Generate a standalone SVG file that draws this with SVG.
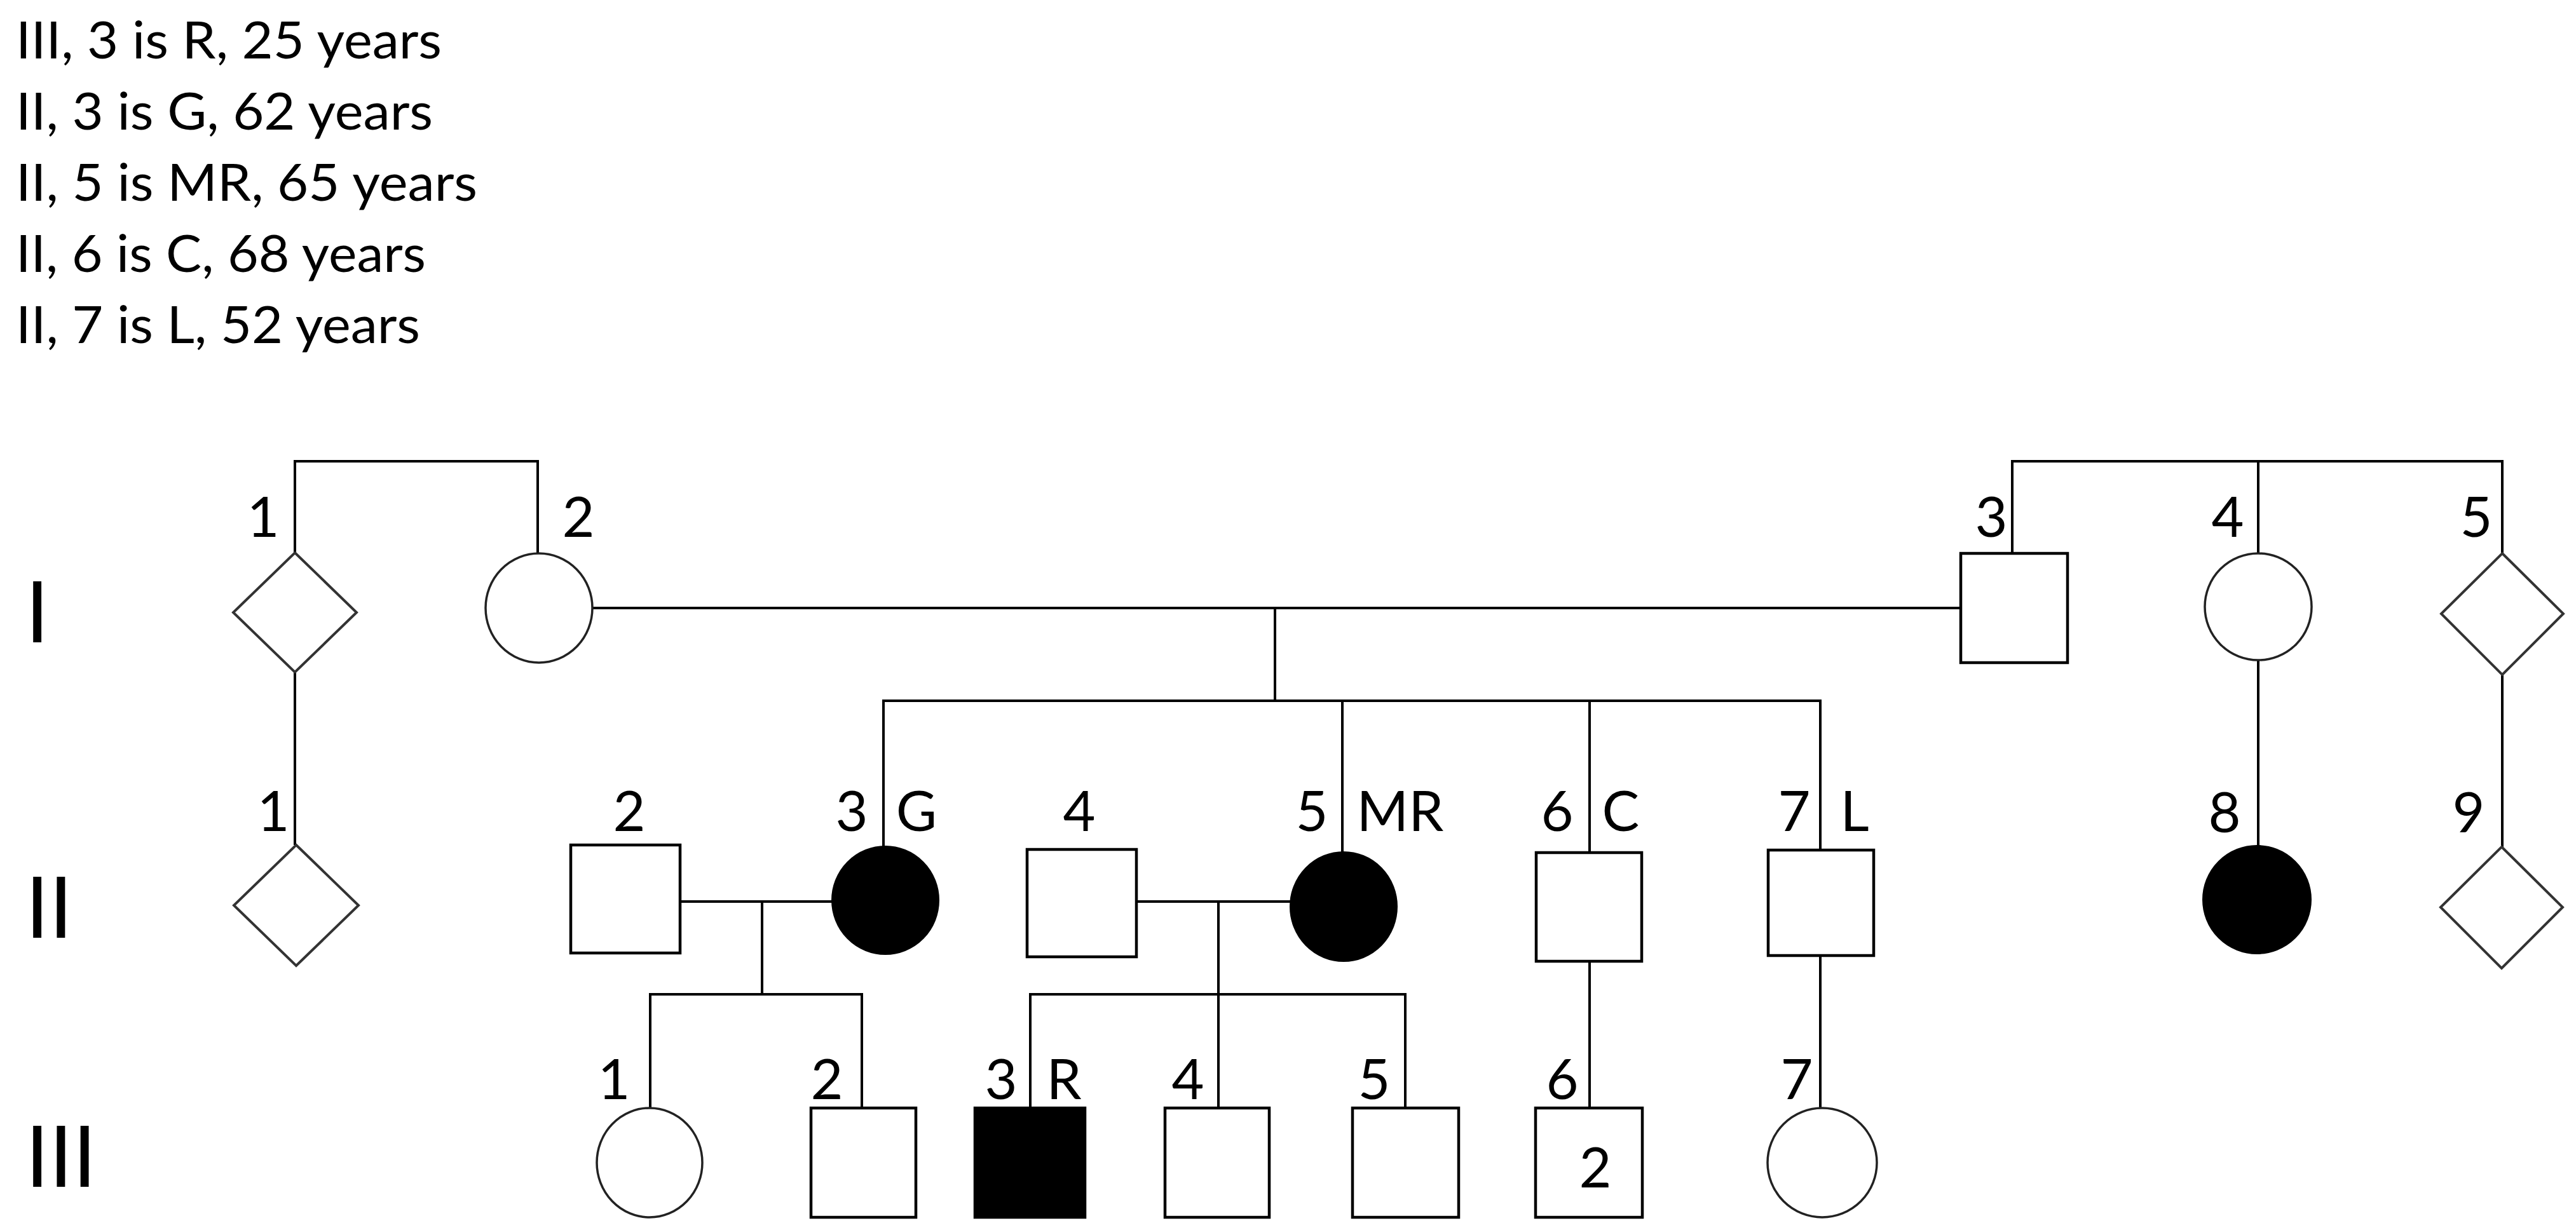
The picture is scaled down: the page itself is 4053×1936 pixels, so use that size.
<svg xmlns="http://www.w3.org/2000/svg" width="4053" height="1936" viewBox="0 0 4053 1936">
<style>
.ln{stroke:#000;stroke-width:4;fill:none}
.sq{fill:#fff;stroke:#000;stroke-width:4.5}
.sqf{fill:#000;stroke:#000;stroke-width:4.5}
.ci{fill:#fff;stroke:#222;stroke-width:3.5}
.cif{fill:#000;stroke:#000;stroke-width:2}
.di{fill:#fff;stroke:#333;stroke-width:4}
.lb{font-family:Lato,"Liberation Sans",sans-serif;font-size:88px;fill:#000;text-anchor:middle}
.gen{font-family:Lato,"Liberation Sans",sans-serif;font-size:133px;fill:#000}
.note{font-family:Lato,"Liberation Sans",sans-serif;font-size:82px;fill:#000}
</style>
<rect width="4053" height="1936" fill="#fff"/>

<g id="legend">
<text class="note" x="25" y="92" textLength="670" lengthAdjust="spacingAndGlyphs">III, 3 is R, 25 years</text>
<text class="note" x="25" y="204" textLength="656" lengthAdjust="spacingAndGlyphs">II, 3 is G, 62 years</text>
<text class="note" x="25" y="316" textLength="726" lengthAdjust="spacingAndGlyphs">II, 5 is MR, 65 years</text>
<text class="note" x="25" y="428" textLength="645" lengthAdjust="spacingAndGlyphs">II, 6 is C, 68 years</text>
<text class="note" x="25" y="540" textLength="636" lengthAdjust="spacingAndGlyphs">II, 7 is L, 52 years</text>
</g>

<g id="generations">
<text class="gen" x="40" y="1011">I</text>
<text class="gen" x="40" y="1476">II</text>
<text class="gen" x="40" y="1868">III</text>
</g>

<g id="connectors">
<path class="ln" d="M464 870 V726 H846 V872"/>
<path class="ln" d="M3166 871 V726 H3937 V871 M3553 726 V871"/>
<path class="ln" d="M932 957 H3085"/>
<path class="ln" d="M2006 957 V1103"/>
<path class="ln" d="M1390 1333 V1103 H2864 V1338 M2112 1103 V1341 M2501 1103 V1342"/>
<path class="ln" d="M464 1058 V1330"/>
<path class="ln" d="M3553 1039 V1331"/>
<path class="ln" d="M3937 1062 V1333"/>
<path class="ln" d="M1070 1419 H1311"/>
<path class="ln" d="M1199 1419 V1565"/>
<path class="ln" d="M1023 1744 V1565 H1356 V1744"/>
<path class="ln" d="M1788 1419 H2031"/>
<path class="ln" d="M1917 1419 V1744"/>
<path class="ln" d="M1621 1744 V1565 H2211 V1744"/>
<path class="ln" d="M2501 1513 V1744"/>
<path class="ln" d="M2864 1504 V1744"/>
</g>

<g id="I-1"><polygon class="di" points="464,870 561,964 464,1058 367,964"/><text class="lb" x="414" y="845">1</text></g>
<g id="I-2"><ellipse class="ci" cx="848" cy="957" rx="84" ry="86"/><text class="lb" x="910" y="845">2</text></g>
<g id="I-3"><rect class="sq" x="3085" y="871" width="168" height="172"/><text class="lb" x="3133" y="845">3</text></g>
<g id="I-4"><ellipse class="ci" cx="3553" cy="955" rx="84" ry="84"/><text class="lb" x="3505" y="845">4</text></g>
<g id="I-5"><polygon class="di" points="3937,871 4033,966 3937,1062 3841,966"/><text class="lb" x="3896" y="845">5</text></g>

<g id="II-1"><polygon class="di" points="466,1330 564,1425 466,1520 368,1425"/><text class="lb" x="430" y="1308">1</text></g>
<g id="II-2"><rect class="sq" x="898" y="1330" width="172" height="170"/><text class="lb" x="990" y="1308">2</text></g>
<g id="II-3"><ellipse class="cif" cx="1393" cy="1417" rx="84" ry="85"/><text class="lb" x="1340" y="1308">3</text><text class="lb" x="1442" y="1308">G</text></g>
<g id="II-4"><rect class="sq" x="1616" y="1337" width="172" height="169"/><text class="lb" x="1698" y="1308">4</text></g>
<g id="II-5"><ellipse class="cif" cx="2114" cy="1427" rx="84" ry="86"/><text class="lb" x="2064" y="1308">5</text><text class="lb" x="2203" y="1308">MR</text></g>
<g id="II-6"><rect class="sq" x="2417" y="1342" width="166" height="171"/><text class="lb" x="2450" y="1308">6</text><text class="lb" x="2550" y="1308">C</text></g>
<g id="II-7"><rect class="sq" x="2782" y="1338" width="166" height="166"/><text class="lb" x="2823" y="1308">7</text><text class="lb" x="2918" y="1308">L</text></g>
<g id="II-8"><ellipse class="cif" cx="3551" cy="1416" rx="85" ry="85"/><text class="lb" x="3500" y="1310">8</text></g>
<g id="II-9"><polygon class="di" points="3936,1333 4032,1428 3936,1524 3840,1428"/><text class="lb" x="3884" y="1310">9</text></g>

<g id="III-1"><ellipse class="ci" cx="1022" cy="1830" rx="83" ry="86"/><text class="lb" x="966" y="1730">1</text></g>
<g id="III-2"><rect class="sq" x="1276" y="1744" width="165" height="172"/><text class="lb" x="1301" y="1730">2</text></g>
<g id="III-3"><rect class="sqf" x="1534" y="1744" width="173" height="172"/><text class="lb" x="1575" y="1730">3</text><text class="lb" x="1674" y="1730">R</text></g>
<g id="III-4"><rect class="sq" x="1833" y="1744" width="164" height="172"/><text class="lb" x="1869" y="1730">4</text></g>
<g id="III-5"><rect class="sq" x="2128" y="1744" width="167" height="172"/><text class="lb" x="2162" y="1730">5</text></g>
<g id="III-6"><rect class="sq" x="2416" y="1744" width="168" height="172"/><text class="lb" x="2458" y="1730">6</text><text class="lb" x="2510" y="1869">2</text></g>
<g id="III-7"><ellipse class="ci" cx="2867" cy="1830" rx="86" ry="86"/><text class="lb" x="2827" y="1730">7</text></g>
</svg>
